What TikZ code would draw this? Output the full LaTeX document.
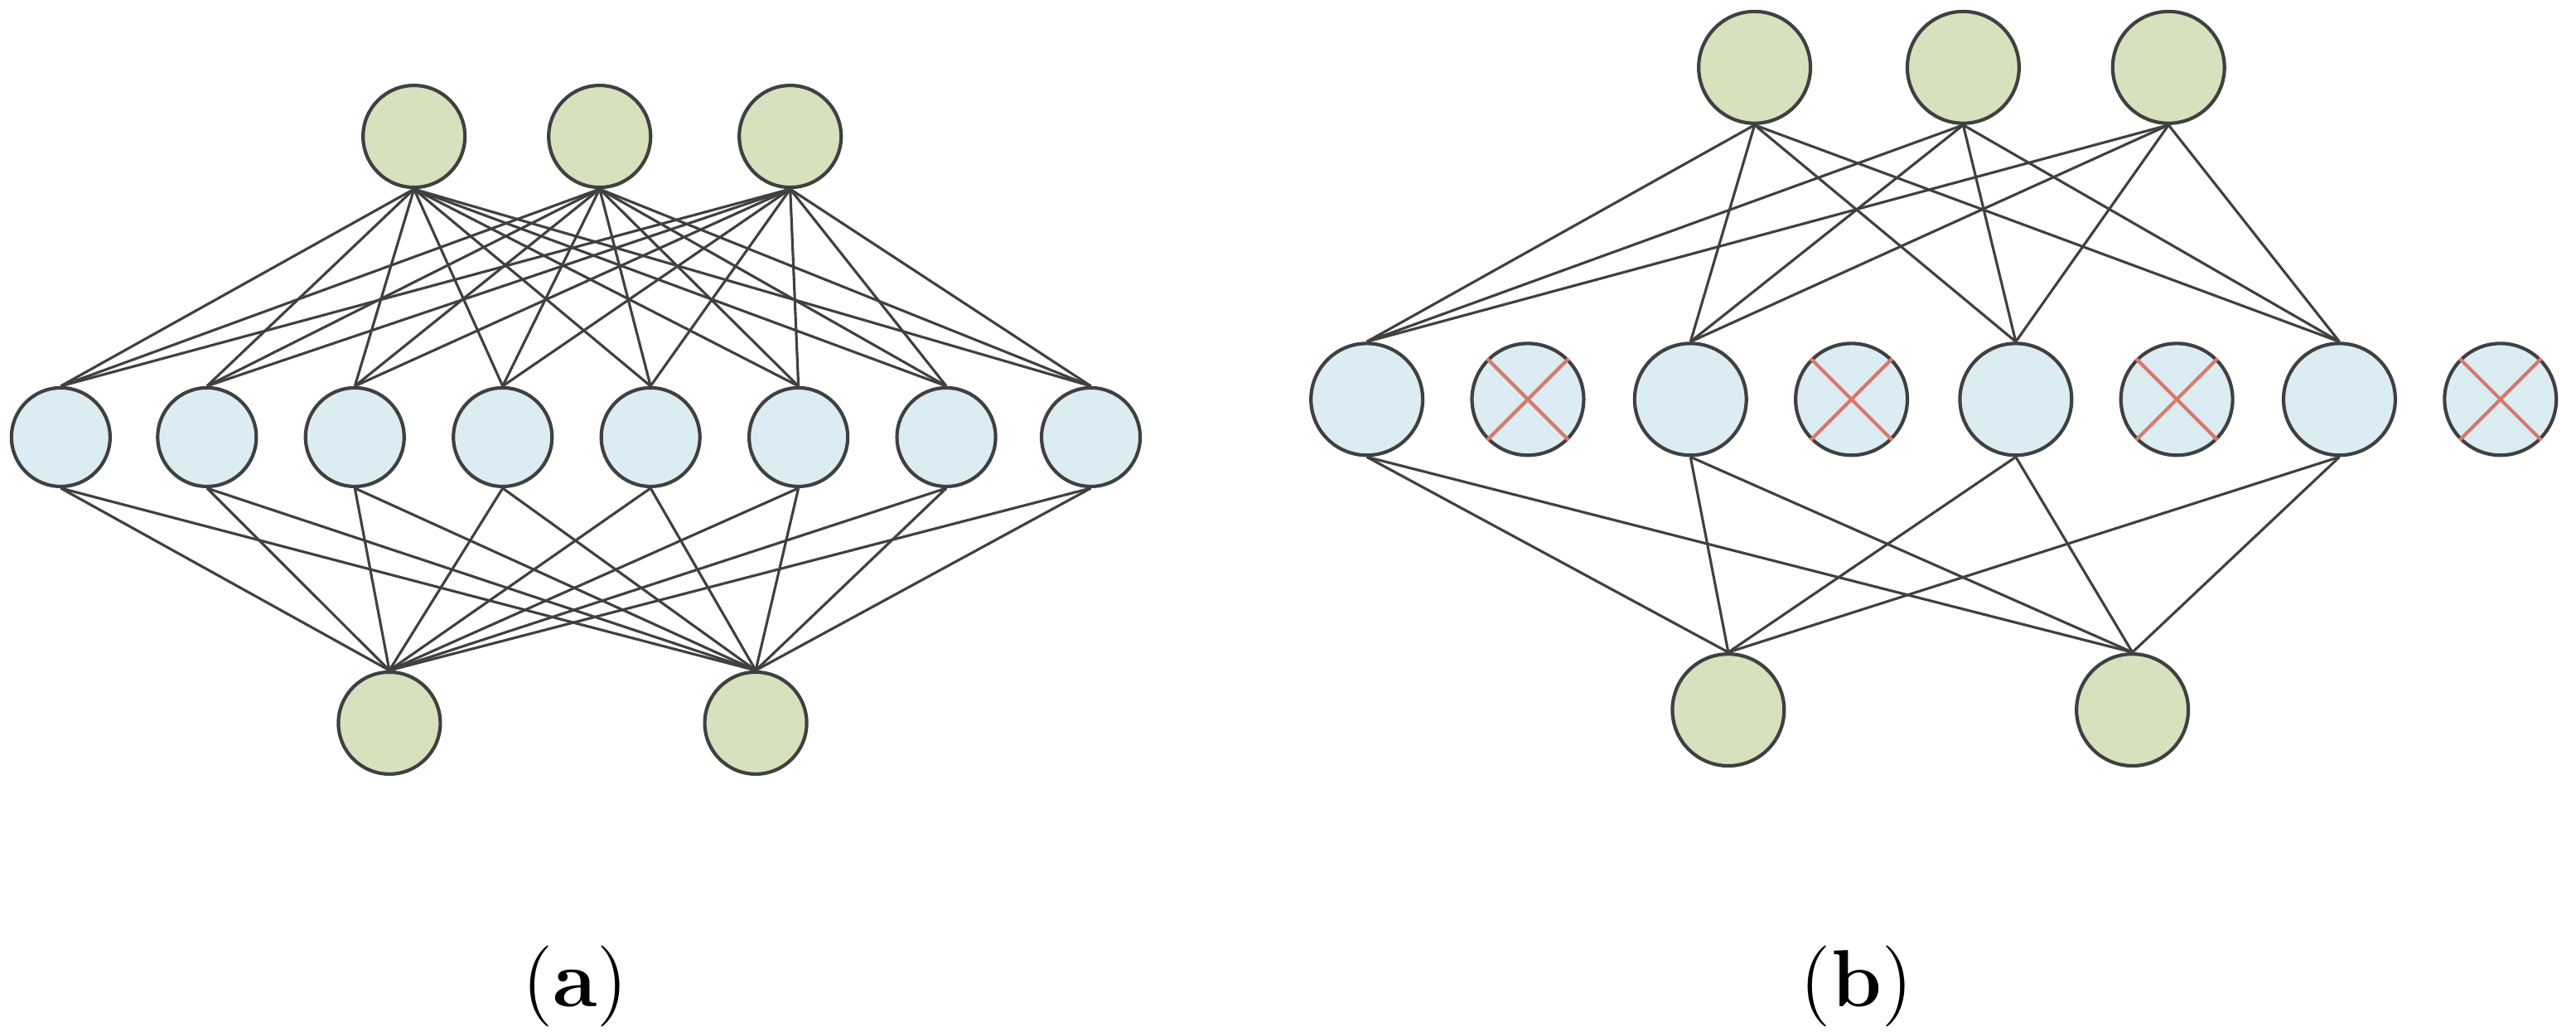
\documentclass[tikz,border=0pt]{standalone}
\begin{document}
\begin{tikzpicture}[x=0.01cm,y=-0.01cm,
  gr/.style={circle,draw=black!75,line width=0.6pt,fill={rgb,255:red,214;green,225;blue,190},minimum size=0.62cm,inner sep=0pt},
  bl/.style={circle,draw=black!75,line width=0.6pt,fill={rgb,255:red,219;green,236;blue,242},minimum size=0.60cm,inner sep=0pt},
  grb/.style={gr,minimum size=0.68cm},
  blb/.style={bl,minimum size=0.68cm},
  ln/.style={draw=black!75,line width=0.45pt},
  xx/.style={draw={rgb,255:red,214;green,120;blue,110},line width=0.6pt}]
\useasboundingbox (0,0) rectangle (1568,630);
% panel a
\foreach \i/\x in {1/252,2/365,3/481} \node[gr] (at\i) at (\x,83) {};
\foreach \i/\x in {1/37,2/126,3/216,4/306,5/396,6/486,7/576,8/664} \node[bl] (am\i) at (\x,266) {};
\foreach \i/\x in {1/237,2/460} \node[gr] (ab\i) at (\x,440) {};
\foreach \i in {1,2,3} \foreach \j in {1,...,8} \draw[ln] (at\i.south) -- (am\j.north);
\foreach \i in {1,2} \foreach \j in {1,...,8} \draw[ln] (am\j.south) -- (ab\i.north);
% panel b
\foreach \i/\x in {1/1068,2/1195,3/1320} \node[grb] (bt\i) at (\x,41) {};
\foreach \i/\x in {1/832,2/1029,3/1227,4/1424} \node[blb] (bm\i) at (\x,243) {};
\foreach \i/\x in {1/930,2/1127,3/1325,4/1522} {\node[blb] (bd\i) at (\x,243) {};
  \draw[xx] (bd\i.north east) -- (bd\i.south west) (bd\i.north west) -- (bd\i.south east);}
\foreach \i/\x in {1/1052,2/1298} \node[grb] (bb\i) at (\x,432) {};
\foreach \i in {1,2,3} \foreach \j in {1,...,4} \draw[ln] (bt\i.south) -- (bm\j.north);
\foreach \i in {1,2} \foreach \j in {1,...,4} \draw[ln] (bm\j.south) -- (bb\i.north);
\node[font=\fontsize{14}{16}\selectfont] (la) at (350,600) {(\textbf{a})};
\node[font=\fontsize{14}{16}\selectfont] (lb) at (1130,600) {(\textbf{b})};
\end{tikzpicture}
\end{document}
